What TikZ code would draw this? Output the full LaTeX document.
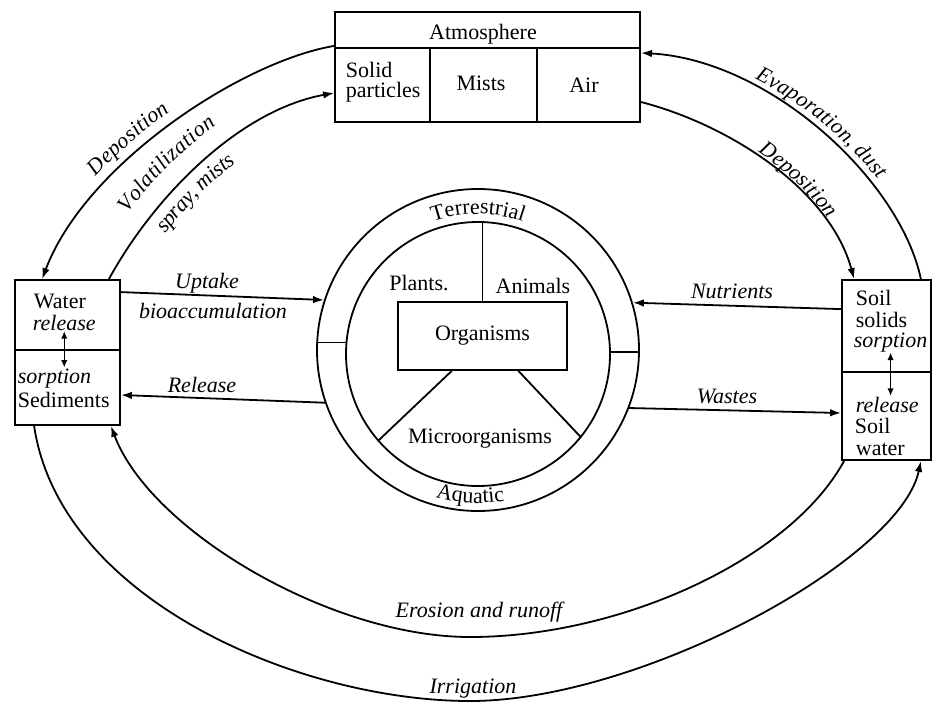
\documentclass[tikz,border=0pt]{standalone}
\usepackage{fontspec}
\setmainfont{Liberation Serif}
\usetikzlibrary{arrows.meta, calc, decorations.text}
\newcommand\txtsize{\fontsize{22}{26}\selectfont}

\begin{document}
\begin{tikzpicture}[x=1pt, y=-1pt, line width=1.8pt,
  box/.style={draw, inner sep=0pt, line width=1.8pt},
  txt/.style={font=\txtsize, inner sep=0pt},
  itxt/.style={font=\txtsize\itshape, inner sep=0pt},
  flow/.style={line width=1.8pt, -{Latex[length=11pt,width=7.5pt]}},
  swap/.style={line width=1.5pt, {Latex[length=7.5pt,width=6.5pt]}-{Latex[length=7.5pt,width=6.5pt]}}]

\fill[white] (0,0) rectangle (933,704);
\useasboundingbox (0,0) rectangle (933,704);

% ---------- Atmosphere block ----------
\node[box, minimum width=305pt, minimum height=36pt] (atmT) at (487.5,30) {};
\node[box, minimum width=95pt, minimum height=74pt] (solid) at (382.5,85) {};
\node[box, minimum width=107pt, minimum height=74pt] (mists) at (483.5,85) {};
\node[box, minimum width=103pt, minimum height=74pt] (air) at (588.5,85) {};
\node[txt, anchor=base] (atmL) at (483,39) {Atmosphere};
\node[txt, anchor=base west] (solidA) at (345,77) {Solid};
\node[txt, anchor=base west] (solidB) at (345,97) {particles};
\node[txt, anchor=base] (mistsL) at (481,90) {Mists};
\node[txt, anchor=base] (airL) at (584,92) {Air};

% ---------- Water / sediments ----------
\node[box, minimum width=105pt, minimum height=70pt] (water) at (67.5,315) {};
\node[box, minimum width=105pt, minimum height=75pt] (sed) at (67.5,387.5) {};
\node[txt, anchor=base west] (waterL) at (33,308) {Water};
\node[itxt, anchor=base west] (relW) at (32,330) {release};
\node[itxt, anchor=base west] (sorpW) at (17,383) {sorption};
\node[txt, anchor=base west] (sedL) at (17,407) {Sediments};
\draw[swap] (relW.south) -- (relW.south |- sorpW.north);

% ---------- Soil ----------
\node[box, minimum width=89pt, minimum height=92pt] (soil) at (886.5,326) {};
\node[box, minimum width=89pt, minimum height=88pt] (soilw) at (886.5,416) {};
\node[txt, anchor=base west] (soilA) at (855,305) {Soil};
\node[txt, anchor=base west] (soilB) at (855,327) {solids};
\node[itxt, anchor=base west] (sorpR) at (853,347) {sorption};
\node[itxt, anchor=base west] (relR) at (855,412) {release};
\node[txt, anchor=base west] (soilC) at (854,433) {Soil};
\node[txt, anchor=base west] (soilD) at (855,455) {water};
\draw[swap] (sorpR.south) -- (sorpR.south |- relR.north);

% ---------- Organisms ----------
\node[circle, draw, minimum size=322pt, inner sep=0pt] (ring) at (478,350) {};
\node[circle, draw, minimum size=264pt, inner sep=0pt] (core) at (478,354) {};
\node[box, minimum width=169pt, minimum height=68pt, font=\txtsize] (org) at (482.5,336) {Organisms};
\draw (org.north) -- (org.north |- core.north);
\draw ($(org.south west)!0.32!(org.south east)$) -- (core.221);
\draw ($(org.south west)!0.71!(org.south east)$) -- (core.321);
\draw (core.175) -- (core.175 -| ring.west);
\draw (core.1) -- (core.1 -| ring.east);
\node[txt, anchor=base] (plants) at (419,290) {Plants.};
\node[txt, anchor=base] (animals) at (533,293) {Animals};
\node[txt, anchor=base] (micro) at (480,443) {Microorganisms};
\path[decorate, decoration={text along path, text={|\txtsize|Terrestrial}, text align=center}]
  ($(ring.center)+(240:136)$) arc[start angle=240, end angle=300, radius=136];
\path[decorate, decoration={text along path, text={|\txtsize|Aquatic}, text align=center}]
  ($(ring.center)+(123:153)$) arc[start angle=123, end angle=63, radius=153];

% ---------- Exchanges with organisms ----------
\draw[flow] ($(water.north east)+(0,13)$) -- (ring.162);
\draw[flow] (ring.199) -- ($(sed.east)+(0,7.5)$);
\draw[flow] ($(soil.north west)+(0,30)$) -- (ring.17);
\draw[flow] (ring.339) -- ($(soilw.west)+(0,-3)$);
\node[itxt, anchor=base] (uptakeL) at (207,288) {Uptake};
\node[itxt, anchor=base] (bioL) at (213,318) {bioaccumulation};
\node[itxt, anchor=base] (releaseL) at (202,392) {Release};
\node[itxt, anchor=base] (nutrL) at (732,298) {Nutrients};
\node[itxt, anchor=base] (wasteL) at (727,403) {Wastes};

% ---------- Outer transfer arcs ----------
\coordinate (dL0) at ($(atmT.south west)+(0,-3)$);
\coordinate (dL1) at ($(water.north west)+(28,0)$);
\coordinate (vL0) at ($(water.north east)+(-12,0)$);
\coordinate (vL1) at ($(solid.west)+(0,8)$);
\coordinate (eR0) at ($(soil.north east)+(-11,0)$);
\coordinate (eR1) at ($(atmT.south east)+(0,4)$);
\coordinate (dR0) at ($(air.east)+(0,17)$);
\coordinate (dR1) at ($(soil.north west)+(13,0)$);
\coordinate (er0) at ($(soilw.south west)+(3,0)$);
\coordinate (erM) at (470,637);
\coordinate (er1) at ($(sed.south east)+(-10,0)$);
\coordinate (ir0) at ($(sed.south west)+(20,0)$);
\coordinate (irM) at (470,701);
\coordinate (ir1) at ($(soilw.south east)+(-11,0)$);

\draw[flow] (dL0) .. controls (240,62) and (85,165) .. (dL1);
\draw[flow] (vL0) .. controls (155,195) and (240,110) .. (vL1);
\draw[flow] (eR0) .. controls (900,180) and (770,60) .. (eR1);
\draw[flow] (dR0) .. controls (730,125) and (830,190) .. (dR1);
\draw[flow] (er0) .. controls (790,560) and (620,637) .. (erM)
                  .. controls (330,637) and (150,530) .. (er1);
\draw[flow] (ir0) .. controls (60,600) and (300,701) .. (irM)
                  .. controls (640,701) and (900,560) .. (ir1);

% labels set along the arcs
\path[decorate, decoration={text along path, text={|\txtsize\itshape|Deposition},
    text align={left, left indent=114pt}, raise=11pt}]
  (dL1) .. controls (85,165) and (240,62) .. (dL0);
\path[decorate, decoration={text along path, text={|\txtsize\itshape|Volatilization},
    text align={left, left indent=64pt}, raise=20pt}]
  (vL0) .. controls (155,195) and (240,110) .. (vL1);
\path[decorate, decoration={text along path, text={|\txtsize\itshape|spray, mists},
    text align={left, left indent=71pt}, raise=-22pt}]
  (vL0) .. controls (155,195) and (240,110) .. (vL1);
\path[decorate, decoration={text along path, text={|\txtsize\itshape|Evaporation, dust},
    text align={left, left indent=116pt}, raise=7pt}]
  (eR1) .. controls (770,60) and (900,180) .. (eR0);
\path[decorate, decoration={text along path, text={|\txtsize\itshape|Deposition},
    text align={left, left indent=127pt}, raise=3pt}]
  (dR0) .. controls (730,125) and (830,190) .. (dR1);
\node[itxt, anchor=base] (erosionL) at (479,617) {Erosion and runoff};
\node[itxt, anchor=base] (irrigL) at (473,693) {Irrigation};
\end{tikzpicture}
\end{document}
